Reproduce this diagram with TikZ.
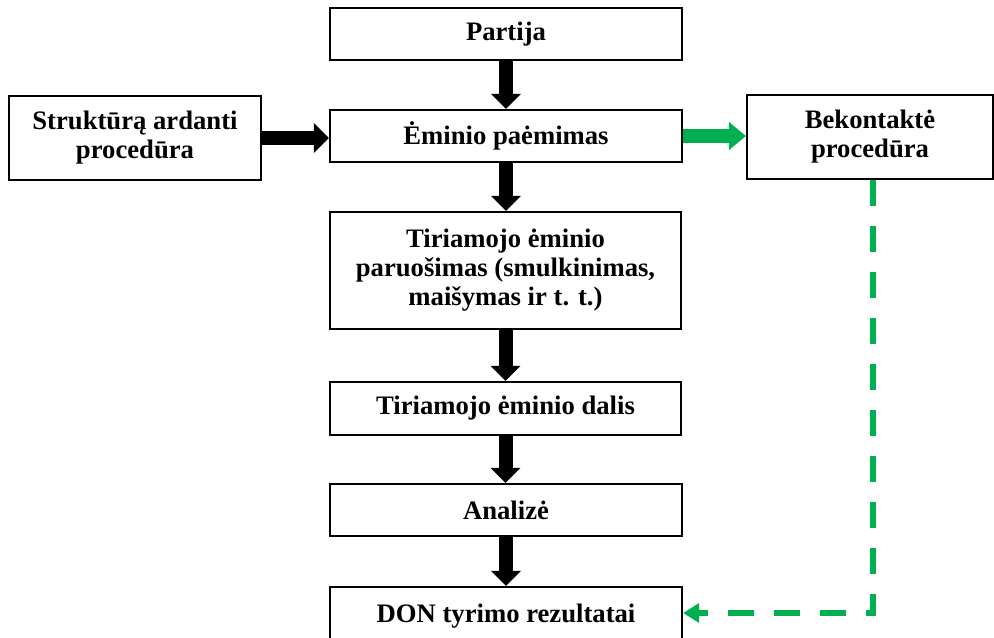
\documentclass[tikz,border=0pt]{standalone}
\usepackage{fontspec}
\setmainfont{Liberation Serif}
\usetikzlibrary{arrows.meta,calc}
\definecolor{ogreen}{RGB}{0,176,80}
\begin{document}
\begin{tikzpicture}[x=0.75pt,y=-0.75pt,
  box/.style={draw=black,line width=1.6pt,fill=white,inner sep=0pt,align=center,
    font=\bfseries\fontsize{20}{21.75}\selectfont},
  bigarrow/.style={line width=10.5pt,-{Triangle[width=21.75pt,length=11.25pt]}},
  greenarrow/.style={ogreen,line width=10pt,-{Triangle[width=20.25pt,length=12.75pt]}},
  dasharrow/.style={ogreen,line width=4.5pt,dash pattern=on 19.5pt off 15pt,
    -{Triangle[width=14pt,length=12pt]}}]
\useasboundingbox (0,0) rectangle (994,637);
\clip (0,0) rectangle (994,637);
\node[box,minimum width=264pt,minimum height=39pt] (partija) at (506,34) {Partija};
\node[box,minimum width=264pt,minimum height=39pt] (eminio) at (506,136) {Ėminio paėmimas};
\node[box,minimum width=189pt,minimum height=63pt] (strukt) at (135,138) {Struktūrą ardanti\\procedūra};
\node[box,minimum width=184.5pt,minimum height=63pt] (bekont) at (870,137) {Bekontaktė\\procedūra};
\node[box,minimum width=263pt,minimum height=87.75pt] (paruos) at (505.5,270.5) {Tiriamojo ėminio\\paruošimas (smulkinimas,\\maišymas ir t. t.)};
\node[box,minimum width=263pt,minimum height=39.75pt] (dalis) at (505.5,408.5) {Tiriamojo ėminio dalis};
\node[box,minimum width=264pt,minimum height=39pt] (analize) at (506,510) {Analizė};
\node[box,minimum width=264pt,minimum height=43.5pt] (don) at (506,616) {DON tyrimo rezultatai};
\draw[bigarrow] (partija.south) -- (eminio.north);
\draw[bigarrow] (eminio.south) -- (eminio.south |- paruos.north);
\draw[bigarrow] (paruos.south) -- (dalis.north);
\draw[bigarrow] (dalis.south) -- (dalis.south |- analize.north);
\draw[bigarrow] (analize.south) -- (don.north);
\draw[bigarrow] (strukt.east) -- (strukt.east -| eminio.west);
\draw[greenarrow] (eminio.east) -- (eminio.east -| bekont.west);
\coordinate (corner) at (873,613);
\draw[dasharrow] (bekont.south -| corner) -- (corner) -- (corner -| don.east);
\end{tikzpicture}
\end{document}
